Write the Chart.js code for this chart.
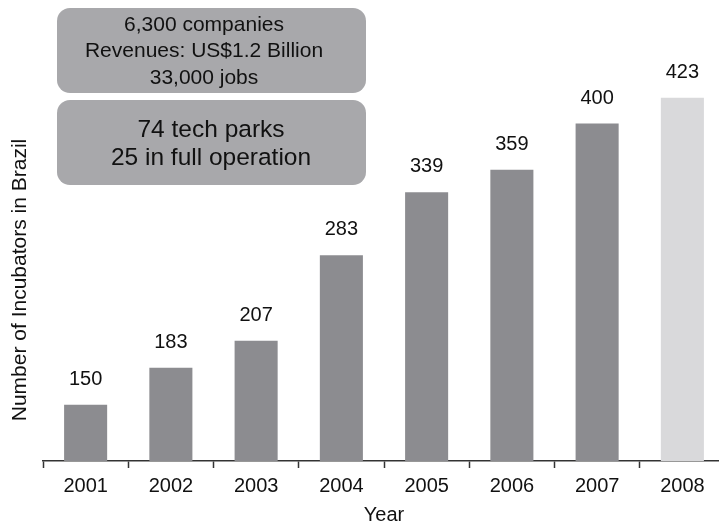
<!DOCTYPE html>
<html>
<head>
<meta charset="utf-8">
<script src="https://cdn.jsdelivr.net/npm/chart.js@4/dist/chart.umd.min.js"></script>
<style>
    html, body { margin: 0; padding: 0; background: #fff; overflow: hidden; }
    #wrap { width: 725px; height: 522px; position: relative; }
</style>
</head>
<body>
<div id="wrap"><canvas id="incubatorChart"></canvas></div>
<script>
// Incubators in Brazil, by year
const years = ['2001', '2002', '2003', '2004', '2005', '2006', '2007', '2008'];
const incubators = [150, 183, 207, 283, 339, 359, 400, 423];

// Text for the two summary boxes
const summaryTop = ['6,300 companies', 'Revenues: US$1.2 Billion', '33,000 jobs'];
const summaryBottom = ['74 tech parks', '25 in full operation'];

const yTitle = 'Number of Incubators in Brazil';
const xTitle = 'Year';

const FONT = '"Liberation Sans", Arial, Helvetica, sans-serif';
const DARK_BAR = '#8c8c90';
const LIGHT_BAR = '#d9d9db';
const BOX_FILL = '#a8a8ab';

// draws the value over each bar, the axis titles and the summary boxes
const decorations = {
    id: 'decorations',
    afterDraw(chart) {
        const ctx = chart.ctx;
        const meta = chart.getDatasetMeta(0);
        ctx.save();
        ctx.fillStyle = '#111';
        ctx.textAlign = 'center';

        ctx.font = '20px ' + FONT;
        ctx.textBaseline = 'alphabetic';
        meta.data.forEach((bar, i) => {
            ctx.fillText(String(incubators[i]), bar.x, bar.y - 20);
        });

        // x axis title
        const area = chart.chartArea;
        ctx.font = '20px ' + FONT;
        ctx.fillText(xTitle, (area.left + area.right) / 2, 521);

        // y axis title
        ctx.save();
        ctx.translate(26, 280);
        ctx.rotate(-Math.PI / 2);
        ctx.font = '21px ' + FONT;
        ctx.fillText(yTitle, 0, 0);
        ctx.restore();

        // summary boxes
        ctx.fillStyle = BOX_FILL;
        ctx.beginPath();
        ctx.roundRect(57, 8, 309, 85, 13);
        ctx.fill();
        ctx.beginPath();
        ctx.roundRect(57, 100, 309, 85, 13);
        ctx.fill();

        ctx.fillStyle = '#111';
        ctx.textBaseline = 'middle';
        ctx.font = '21px ' + FONT;
        summaryTop.forEach((line, i) => {
            ctx.fillText(line, 204, 25 + i * 26.5);
        });
        ctx.font = '24.5px ' + FONT;
        summaryBottom.forEach((line, i) => {
            ctx.fillText(line, 211, 130 + i * 28);
        });
        ctx.restore();
    }
};

const ctx = document.getElementById('incubatorChart').getContext('2d');

new Chart(ctx, {
    type: 'bar',
    data: {
        labels: years,
        datasets: [{
            data: incubators,
            backgroundColor: (c) => c.dataIndex === incubators.length - 1 ? LIGHT_BAR : DARK_BAR,
            borderWidth: 0,
            categoryPercentage: 1,
            barPercentage: 0.505
        }]
    },
    options: {
        responsive: true,
        maintainAspectRatio: false,
        animation: false,
        layout: {
            padding: { left: 43, top: 83, right: 0, bottom: 18 }
        },
        scales: {
            x: {
                offset: true,
                grid: {
                    offset: true,
                    drawOnChartArea: false,
                    drawTicks: true,
                    tickLength: 7,
                    tickWidth: 1.5,
                    tickColor: '#333'
                },
                border: { display: true, color: '#333', width: 1.5 },
                ticks: {
                    color: '#111',
                    padding: 6,
                    font: { family: FONT, size: 20 }
                }
            },
            y: {
                display: false,
                min: 100,
                max: 436
            }
        },
        plugins: {
            legend: { display: false },
            tooltip: { enabled: false }
        }
    },
    plugins: [decorations]
});
</script>
</body>
</html>
